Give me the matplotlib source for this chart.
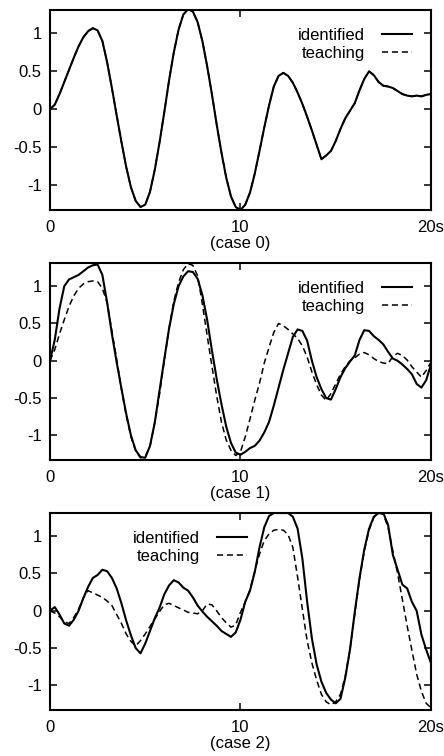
import numpy as np
import matplotlib
matplotlib.use('Agg')
import matplotlib.pyplot as plt

plt.rcParams['font.family'] = ['Liberation Sans', 'DejaVu Sans']
plt.rcParams['axes.unicode_minus'] = False

# sample times, 0.25 s apart
t = np.arange(81) * 0.25

ident0 = [0.00, 0.06, 0.20, 0.36, 0.52, 0.68, 0.83, 0.95, 1.03, 1.07, 1.04, 0.90,
          0.62, 0.28, -0.08, -0.43, -0.76, -1.03, -1.21, -1.29, -1.26, -1.09, -0.80, -0.44,
          -0.04, 0.38, 0.75, 1.05, 1.25, 1.32, 1.29, 1.15, 0.90, 0.57, 0.20, -0.20,
          -0.57, -0.90, -1.15, -1.29, -1.33, -1.26, -1.10, -0.85, -0.55, -0.24, 0.05, 0.30,
          0.44, 0.48, 0.44, 0.35, 0.22, 0.07, -0.10, -0.28, -0.47, -0.66, -0.61, -0.55,
          -0.42, -0.26, -0.12, -0.02, 0.08, 0.25, 0.40, 0.50, 0.45, 0.36, 0.31, 0.30,
          0.28, 0.24, 0.20, 0.18, 0.17, 0.18, 0.17, 0.19, 0.20]
teach0 = list(ident0)

ident1 = [0.00, 0.28, 0.70, 1.00, 1.09, 1.12, 1.15, 1.20, 1.25, 1.28, 1.29, 1.15,
          0.78, 0.36, -0.02, -0.37, -0.71, -1.00, -1.20, -1.29, -1.30, -1.14, -0.83, -0.40,
          0.02, 0.43, 0.76, 1.00, 1.13, 1.20, 1.19, 1.10, 0.88, 0.55, 0.14, -0.24,
          -0.58, -0.88, -1.10, -1.23, -1.26, -1.22, -1.17, -1.14, -1.07, -0.96, -0.82, -0.60,
          -0.36, -0.12, 0.10, 0.32, 0.42, 0.40, 0.27, 0.00, -0.22, -0.38, -0.50, -0.52,
          -0.38, -0.22, -0.10, -0.01, 0.07, 0.28, 0.41, 0.40, 0.33, 0.28, 0.22, 0.12,
          0.03, 0.00, -0.05, -0.11, -0.18, -0.31, -0.36, -0.26, -0.05]
teach1 = [0.00, 0.15, 0.36, 0.55, 0.73, 0.87, 0.97, 1.03, 1.06, 1.07, 1.06, 0.97,
          0.78, 0.40, 0.02, -0.38, -0.73, -1.02, -1.21, -1.30, -1.28, -1.15, -0.83, -0.45,
          0.00, 0.43, 0.80, 1.05, 1.22, 1.30, 1.28, 1.14, 0.76, 0.34, -0.07, -0.47,
          -0.82, -1.06, -1.20, -1.27, -1.22, -1.02, -0.78, -0.53, -0.30, -0.03, 0.18, 0.38,
          0.50, 0.47, 0.42, 0.36, 0.30, 0.20, 0.05, -0.15, -0.32, -0.46, -0.53, -0.44,
          -0.31, -0.18, -0.08, 0.00, 0.04, 0.09, 0.11, 0.08, 0.03, -0.01, -0.03, -0.04,
          0.06, 0.10, 0.07, 0.01, -0.08, -0.15, -0.22, -0.13, -0.02]

ident2 = [0.00, 0.05, -0.05, -0.17, -0.20, -0.12, 0.00, 0.17, 0.32, 0.44, 0.48, 0.55,
          0.53, 0.44, 0.30, 0.10, -0.13, -0.33, -0.50, -0.57, -0.44, -0.27, -0.10, 0.04,
          0.22, 0.34, 0.41, 0.38, 0.31, 0.27, 0.18, 0.07, -0.01, -0.08, -0.14, -0.20,
          -0.27, -0.31, -0.35, -0.29, -0.12, 0.12, 0.27, 0.52, 0.85, 1.12, 1.27, 1.31,
          1.31, 1.31, 1.31, 1.26, 1.10, 0.70, 0.12, -0.37, -0.72, -0.95, -1.10, -1.19,
          -1.24, -1.18, -0.90, -0.52, -0.02, 0.44, 0.82, 1.10, 1.26, 1.31, 1.31, 1.15,
          0.75, 0.55, 0.35, 0.30, 0.12, 0.00, -0.32, -0.52, -0.70]
teach2 = [0.00, -0.03, -0.08, -0.15, -0.17, -0.09, 0.02, 0.17, 0.27, 0.24, 0.21, 0.18,
          0.13, 0.07, -0.05, -0.17, -0.31, -0.41, -0.47, -0.40, -0.31, -0.21, -0.11, -0.01,
          0.08, 0.10, 0.07, 0.04, 0.01, -0.02, -0.03, -0.04, 0.00, 0.09, 0.08, 0.00,
          -0.09, -0.16, -0.22, -0.19, -0.02, 0.12, 0.28, 0.53, 0.76, 0.94, 1.03, 1.08,
          1.09, 1.08, 1.02, 0.85, 0.45, 0.02, -0.40, -0.70, -0.93, -1.12, -1.22, -1.26,
          -1.22, -1.12, -0.88, -0.52, -0.04, 0.42, 0.80, 1.08, 1.25, 1.31, 1.29, 1.12,
          0.80, 0.50, 0.15, -0.20, -0.53, -0.85, -1.08, -1.24, -1.30]

cases = ['(case 0)', '(case 1)', '(case 2)']
yticks = [-1, -0.5, 0, 0.5, 1]
ylabels = ['-1', '-0.5', '0', '0.5', '1']
xticks = [0, 10, 20]
xlabels = ['0', '10', '20s']

fig = plt.figure(figsize=(4.44, 7.56), dpi=100)

def panel(rect, ident, teach, label, leg_anchor):
    ax = fig.add_axes(rect)
    ax.plot(t, ident, color='black', lw=1.5, label='identified')
    ax.plot(t, teach, color='black', lw=1.1, ls=(0, (4, 2.5)), label='teaching')
    ax.set_xlim(0, 20)
    ax.set_ylim(-1.33, 1.31)
    ax.set_yticks(yticks)
    ax.set_yticklabels(ylabels)
    ax.set_xticks(xticks)
    ax.set_xticklabels(xlabels)
    ax.tick_params(direction='in', length=5, width=1.1, labelsize=12,
                   top=True, right=True, pad=6)
    ax.tick_params(axis='x', pad=7)
    for s in ax.spines.values():
        s.set_linewidth(1.5)
    ax.set_xlabel(label, fontsize=12, labelpad=1)
    ax.legend(loc='upper right', bbox_to_anchor=leg_anchor, markerfirst=False,
              frameon=False, fontsize=12, borderpad=0, borderaxespad=0,
              labelspacing=0.2, handlelength=1.8, handletextpad=1.0)
    return ax

panel([0.1126, 0.7222, 0.858, 0.2646], ident0, teach0, cases[0], (0.95, 0.91))
panel([0.1126, 0.3915, 0.858, 0.2606], ident1, teach1, cases[1], (0.95, 0.91))
panel([0.1126, 0.0608, 0.858, 0.2606], ident2, teach2, cases[2], (0.517, 0.91))

fig.savefig('out.png', dpi=100)
